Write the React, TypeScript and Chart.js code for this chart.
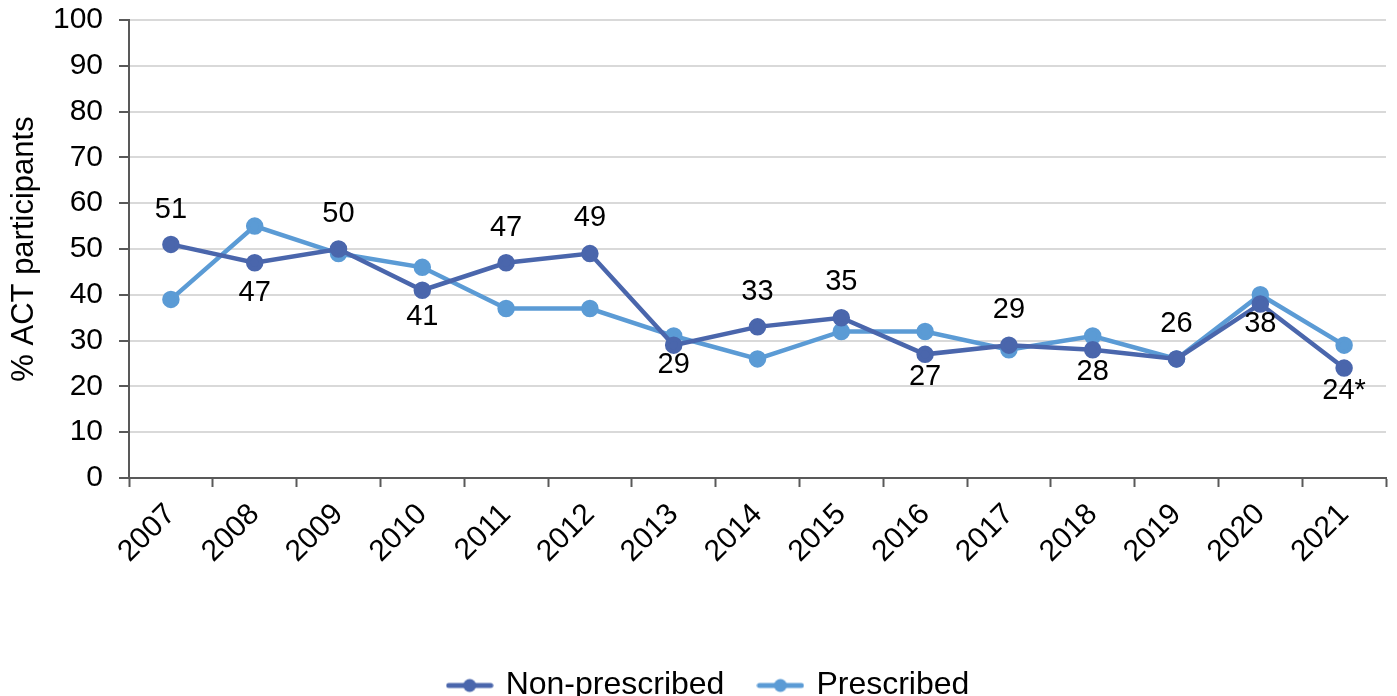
import React, { useEffect, useRef } from "react";
import { Chart, registerables } from "chart.js";

Chart.register(...registerables);

const years = ["2007", "2008", "2009", "2010", "2011", "2012", "2013", "2014", "2015", "2016", "2017", "2018", "2019", "2020", "2021"];
const nonPrescribed = [51, 47, 50, 41, 47, 49, 29, 33, 35, 27, 29, 28, 26, 38, 24];
const prescribed = [39, 55, 49, 46, 37, 37, 31, 26, 32, 32, 28, 31, 26, 40, 29];
const nonPrescribedLabels = ["51", "47", "50", "41", "47", "49", "29", "33", "35", "27", "29", "28", "26", "38", "24*"];
const seriesNames = ["Non-prescribed", "Prescribed"];
const yMin = 0;
const yMax = 100;
const yStep = 10;
const yTitle = "% ACT participants";

const FONT = "'Liberation Sans', Arial, sans-serif";
const DARK = "#4a66ac";
const LIGHT = "#5b9bd5";

function legendMarker(color: string): HTMLCanvasElement {
  const c = document.createElement("canvas");
  c.width = 48;
  c.height = 16;
  const ctx = c.getContext("2d")!;
  ctx.strokeStyle = color;
  ctx.lineWidth = 5;
  ctx.lineCap = "round";
  ctx.beginPath();
  ctx.moveTo(3, 8);
  ctx.lineTo(45, 8);
  ctx.stroke();
  ctx.fillStyle = color;
  ctx.beginPath();
  ctx.arc(24, 8, 6.5, 0, Math.PI * 2);
  ctx.fill();
  return c;
}

const dataLabelPlugin = {
  id: "dataLabelsCustom",
  afterDatasetsDraw(chart: any, _args: any, opts: any) {
    const meta = chart.getDatasetMeta(0);
    const ctx = chart.ctx;
    ctx.save();
    ctx.font = `29px ${FONT}`;
    ctx.fillStyle = "#000000";
    ctx.textAlign = "center";
    ctx.textBaseline = "middle";
    meta.data.forEach((pt: any, i: number) => {
      const off = opts.offsets[i] ?? -34;
      ctx.fillText(opts.labels[i], pt.x, pt.y + off);
    });
    ctx.restore();
  },
};

export default function App() {
  const ref = useRef<HTMLCanvasElement | null>(null);

  useEffect(() => {
    document.body.style.margin = "0";
    const canvas = ref.current!;
    const chart = new Chart(canvas, {
      type: "line",
      data: {
        labels: years,
        datasets: [
          {
            label: seriesNames[0],
            data: nonPrescribed,
            borderColor: DARK,
            backgroundColor: DARK,
            pointBackgroundColor: DARK,
            pointBorderColor: DARK,
            borderWidth: 4.5,
            pointRadius: 6.5,
            tension: 0,
          } as any,
          {
            label: seriesNames[1],
            data: prescribed,
            borderColor: LIGHT,
            backgroundColor: LIGHT,
            pointBackgroundColor: LIGHT,
            pointBorderColor: LIGHT,
            borderWidth: 4.5,
            pointRadius: 6.5,
            tension: 0,
          } as any,
        ],
      },
      options: {
        animation: false,
        responsive: true,
        maintainAspectRatio: false,
        layout: { padding: { top: 20, right: 10, left: 32, bottom: -15.5 } },
        elements: { point: { pointStyle: "circle" } },
        scales: {
          x: {
            offset: true,
            grid: {
              offset: true,
              drawOnChartArea: false,
              drawTicks: true,
              tickLength: 9,
              tickColor: "#595959",
              tickWidth: 2,
            },
            border: { color: "#595959", width: 2 },
            ticks: {
              color: "#000",
              font: { family: FONT, size: 30 },
              minRotation: 45,
              maxRotation: 45,
              padding: 10,
              autoSkip: false,
            },
            afterFit: (s: any) => {
              s.height = 155.5;
              s.paddingLeft = 0;
              s.paddingRight = 0;
            },
          },
          y: {
            min: yMin,
            max: yMax,
            ticks: {
              stepSize: yStep,
              color: "#000",
              font: { family: FONT, size: 30 },
              padding: 16,
            },
            grid: {
              color: "#d9d9d9",
              lineWidth: 2,
              tickLength: 10,
              tickColor: "#595959",
              tickWidth: 2,
            },
            border: { color: "#595959", width: 2 },
            title: {
              display: true,
              text: yTitle,
              color: "#000",
              font: { family: FONT, size: 31 },
              padding: { top: -26, bottom: 4 },
            },
            afterFit: (s: any) => {
              s.width = 97;
              s.paddingTop = 0;
              s.paddingBottom = 0;
            },
          },
        },
        plugins: {
          legend: {
            display: true,
            position: "bottom",
            labels: {
              color: "#000",
              font: { family: FONT, size: 32 },
              usePointStyle: true,
              pointStyleWidth: 40,
              padding: 36,
              generateLabels: (ch: any) =>
                ch.data.datasets.map((ds: any, i: number) => ({
                  text: ds.label,
                  pointStyle: legendMarker(i === 0 ? DARK : LIGHT),
                  fillStyle: ds.borderColor,
                  strokeStyle: ds.borderColor,
                  lineWidth: 0,
                  hidden: false,
                  datasetIndex: i,
                  fontColor: "#000",
                })),
            },
          },
          tooltip: { enabled: false },
          dataLabelsCustom: {
            labels: nonPrescribedLabels,
            offsets: [-34, 30, -35, 27, -35, -36, 20, -35, -36, 23, -35, 22, -35, 20, 23],
          },
        } as any,
      },
      plugins: [dataLabelPlugin],
    });
    return () => chart.destroy();
  }, []);

  return (
    <div style={{ position: "fixed", left: 0, top: 0, width: 1397, height: 696, background: "#fff" }}>
      <canvas ref={ref} />
    </div>
  );
}
